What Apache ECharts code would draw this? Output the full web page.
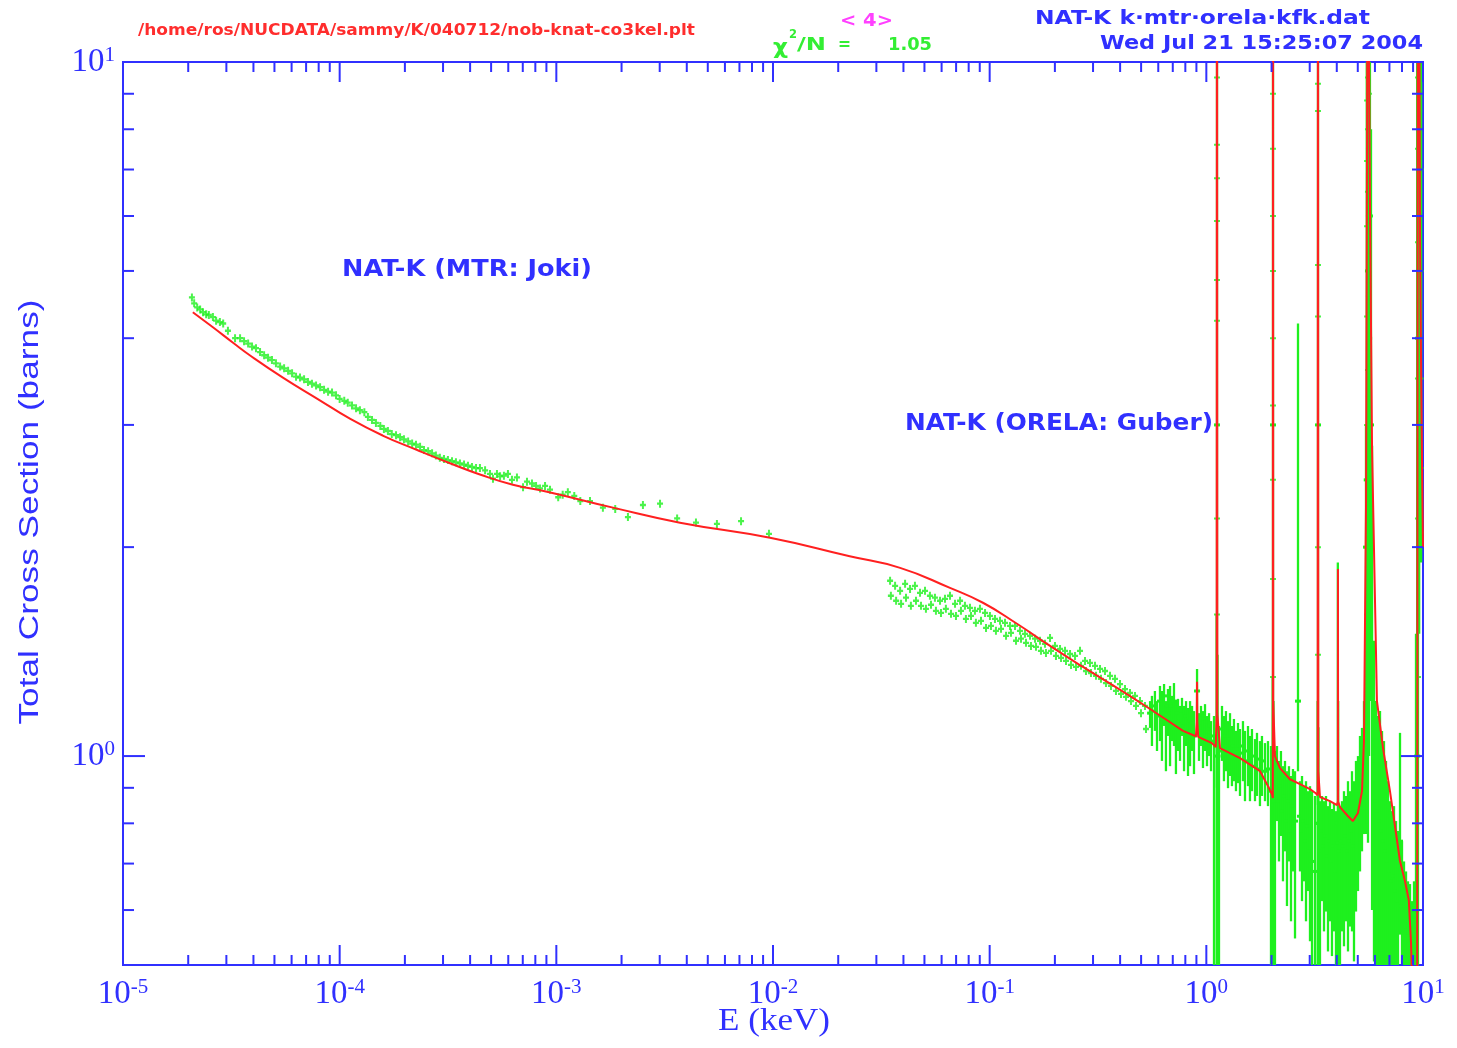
<!DOCTYPE html>
<html><head><meta charset="utf-8">
<script src="https://cdn.jsdelivr.net/npm/echarts@6/dist/echarts.min.js"></script>
<style>html,body{margin:0;padding:0;background:#fff;}#c{width:1457px;height:1048px;}</style>
</head><body><div id="c"></div>
<script>
// ---------------- DATA ----------------
const xDecades = [1e-5, 1e-4, 1e-3, 1e-2, 1e-1, 1, 10];
const minorMultipliers = [2, 3, 4, 5, 6, 7, 8, 9];
const yMajorTicks = [1, 10];
const yMinorTicks = [0.6, 0.7, 0.8, 0.9, 2, 3, 4, 5, 6, 7, 8, 9];

// MTR (Joki) measured points [E keV, sigma barns]
const mtrData = [
[2.08e-5,4.58],[2.13e-5,4.49],[2.20e-5,4.43],[2.27e-5,4.40],[2.34e-5,4.36],[2.42e-5,4.33],[2.49e-5,4.32],
[2.60e-5,4.29],[2.69e-5,4.24],[2.80e-5,4.22],[2.90e-5,4.20],[3.05e-5,4.10],[3.29e-5,4.00],[3.47e-5,4.00],
[3.62e-5,3.96],[3.78e-5,3.93],[3.94e-5,3.89],[4.11e-5,3.87],[4.29e-5,3.82],[4.48e-5,3.78],[4.67e-5,3.75],
[4.87e-5,3.72],[5.08e-5,3.68],[5.31e-5,3.64],[5.54e-5,3.62],[5.78e-5,3.59],[6.03e-5,3.56],[6.29e-5,3.52],
[6.56e-5,3.51],[6.85e-5,3.49],[7.14e-5,3.46],[7.45e-5,3.44],[7.78e-5,3.42],[8.12e-5,3.40],[8.47e-5,3.37],
[8.84e-5,3.35],[9.22e-5,3.34],[9.62e-5,3.31],[1.00e-4,3.27],[1.05e-4,3.25],[1.09e-4,3.23],[1.14e-4,3.20],
[1.19e-4,3.17],[1.24e-4,3.15],[1.30e-4,3.13],[1.35e-4,3.08],[1.41e-4,3.05],[1.47e-4,3.02],[1.54e-4,2.99],
[1.60e-4,2.96],[1.67e-4,2.94],[1.74e-4,2.91],[1.82e-4,2.90],[1.90e-4,2.88],[1.98e-4,2.86],[2.07e-4,2.84],
[2.16e-4,2.82],[2.25e-4,2.81],[2.35e-4,2.79],[2.45e-4,2.76],[2.56e-4,2.75],[2.67e-4,2.73],[2.78e-4,2.71],
[2.90e-4,2.69],[3.03e-4,2.68],[3.16e-4,2.67],[3.30e-4,2.66],[3.44e-4,2.65],[3.59e-4,2.64],[3.75e-4,2.63],
[3.91e-4,2.62],[4.08e-4,2.61],[4.26e-4,2.60],[4.44e-4,2.60],[4.69e-4,2.58],[4.94e-4,2.55],[5.10e-4,2.51],
[5.32e-4,2.55],[5.50e-4,2.53],[5.73e-4,2.535],[5.98e-4,2.55],[6.24e-4,2.50],[6.58e-4,2.52],[7.02e-4,2.44],
[7.32e-4,2.485],[7.72e-4,2.47],[8.06e-4,2.45],[8.41e-4,2.43],[8.87e-4,2.45],[9.35e-4,2.42],[1.02e-3,2.36],
[1.07e-3,2.38],[1.13e-3,2.40],[1.21e-3,2.37],[1.29e-3,2.33],[1.43e-3,2.33],[1.64e-3,2.28],[1.87e-3,2.27],
[2.14e-3,2.21],[2.51e-3,2.30],[3.01e-3,2.31],[3.61e-3,2.20],[4.41e-3,2.17],[5.51e-3,2.16],[7.12e-3,2.18],
[9.58e-3,2.09]
];

// ORELA (Guber) smooth part [E keV, sigma barns]
const orelaSmooth = [
[0.0347,1.789],[0.0350,1.702],[0.0366,1.759],[0.0370,1.674],[0.0386,1.730],[0.0390,1.657],
[0.0407,1.771],[0.0411,1.691],[0.0429,1.741],[0.0433,1.646],[0.0452,1.759],[0.0457,1.674],
[0.0477,1.719],[0.0482,1.646],[0.0503,1.730],[0.0508,1.630],[0.0530,1.702],[0.0536,1.652],
[0.0559,1.691],[0.0565,1.619],[0.0590,1.674],[0.0596,1.608],[0.0622,1.685],[0.0628,1.630],
[0.0656,1.702],[0.0663,1.603],[0.0692,1.657],[0.0699,1.592],[0.0730,1.674],[0.0737,1.619],
[0.0769,1.646],[0.0777,1.576],[0.0811,1.635],[0.0820,1.592],[0.0855,1.619],[0.0864,1.556],
[0.0902,1.630],[0.0912,1.566],[0.0952,1.608],[0.0962,1.530],[0.1003,1.592],[0.1014,1.540],
[0.1058,1.576],[0.1069,1.515],[0.1116,1.566],[0.1128,1.525],[0.1177,1.556],[0.1190,1.490],
[0.1241,1.540],[0.1254,1.505],[0.1309,1.540],[0.1323,1.466],[0.1380,1.515],[0.1395,1.476],
[0.1455,1.500],[0.1471,1.456],[0.1535,1.490],[0.1551,1.441],[0.1619,1.476],[0.1636,1.437],
[0.1707,1.466],[0.1725,1.418],[0.1800,1.451],[0.1819,1.408],[0.1899,1.480],[0.1919,1.418],
[0.2002,1.441],[0.2023,1.394],[0.2112,1.427],[0.2135,1.385],[0.2227,1.418],[0.2251,1.371],
[0.2349,1.403],[0.2374,1.353],[0.2477,1.394],[0.2503,1.344],[0.2612,1.418],[0.2640,1.349],
[0.2754,1.371],[0.2783,1.326],[0.2904,1.362],[0.2935,1.317],[0.3063,1.349],[0.3096,1.305],
[0.3230,1.335],[0.3264,1.292],[0.3406,1.326],[0.3442,1.274],[0.3592,1.305],[0.3630,1.262],
[0.3788,1.292],[0.3828,1.241],[0.3995,1.270],[0.4038,1.229],[0.4213,1.249],[0.4258,1.217],
[0.4443,1.233],[0.4490,1.200],[0.4685,1.221],[0.4735,1.181],[0.4941,1.200],[0.4994,1.153],
[0.5210,1.181],[0.5266,1.094]
];

// ORELA noisy part with error bars [E keV, sigma, lower, upper]
const orelaNoisy = [
[0.550,1.153,1.098,1.200],[0.561,1.161,1.034,1.221],[0.579,1.181,1.087,1.241],[0.592,1.142,1.017,1.200],
[0.611,1.200,1.051,1.262],[0.624,1.131,0.984,1.241],[0.638,1.221,1.105,1.270],[0.651,1.123,0.951,1.200],
[0.665,1.181,1.069,1.249],[0.680,1.153,0.967,1.262],[0.694,1.181,1.051,1.221],[0.709,1.200,1.034,1.274],
[0.724,1.116,0.942,1.200],[0.740,1.153,1.017,1.209],[0.756,1.123,0.984,1.181],[0.772,1.161,1.069,1.213],
[0.789,1.105,0.951,1.181],[0.806,1.142,1.034,1.200],[0.823,1.087,0.936,1.173],[0.841,1.123,0.967,1.200],
[0.859,1.116,1.017,1.181],[0.877,1.069,0.942,1.161],[0.906,1.241,1.123,1.335],[0.925,1.087,0.984,1.153],
[0.945,1.116,1.034,1.181],[0.965,1.069,0.961,1.161],[0.986,1.131,1.017,1.188],[1.007,1.058,0.967,1.142],
[1.029,1.094,1.000,1.153],[1.051,1.051,0.951,1.123],[1.085,1.069,0.45,1.142],[1.116,1.05,0.45,1.6],
[1.120,3.0,0.9,12],[1.126,1.0,0.45,1.4],[1.144,1.017,0.45,1.105],[1.181,1.094,0.984,1.181],
[1.206,1.034,0.920,1.142],[1.232,1.069,0.951,1.161],[1.259,1.024,0.899,1.123],[1.286,1.058,0.936,1.153],
[1.313,1.010,0.905,1.105],[1.341,1.034,0.920,1.131],[1.370,1.000,0.890,1.087],[1.400,1.024,0.914,1.116],
[1.430,1.010,0.876,1.094],[1.476,1.034,0.920,1.123],[1.508,0.984,0.861,1.087],[1.557,1.017,0.905,1.105],
[1.590,0.977,0.861,1.069],[1.624,1.000,0.890,1.094],[1.677,0.967,0.861,1.058],[1.713,0.990,0.876,1.080],
[1.768,0.958,0.847,1.051],[1.806,0.984,0.876,1.069],[1.865,0.951,0.861,1.044],[1.925,0.958,0.847,1.051],
[1.988,0.890,0.45,1.034],[2.025,0.90,0.45,1.3],[2.031,3.0,0.9,12],[2.040,0.85,0.45,1.2],
[2.074,0.861,0.45,1.017],[2.119,0.936,0.806,1.034],[2.164,0.861,0.705,0.984],[2.210,0.905,0.767,1.017],
[2.258,0.833,0.660,0.967],[2.307,0.876,0.729,0.984],[2.356,0.806,0.608,0.951],[2.407,0.861,0.705,0.967],
[2.459,0.780,0.578,0.936],[2.511,0.847,0.682,0.958],[2.566,0.806,0.546,0.951],[2.649,1.20,0.951,4.20],
[2.706,0.819,0.682,0.920],[2.764,0.780,0.618,0.936],[2.823,0.806,0.660,0.905],[2.884,0.754,0.578,0.920],
[2.946,0.793,0.639,0.890],[3.009,0.729,0.541,0.905],[3.074,0.705,0.45,0.890],[3.173,0.682,0.45,0.876],
[3.265,0.80,0.45,1.2],[3.276,3.0,0.85,12],[3.290,0.80,0.45,1.1],[3.346,0.729,0.45,0.861],
[3.418,0.780,0.618,0.876],[3.492,0.742,0.559,0.861],[3.567,0.767,0.597,0.876],[3.643,0.717,0.523,0.847],
[3.721,0.754,0.578,0.861],[3.801,0.705,0.515,0.839],[3.883,0.742,0.559,0.853],[3.966,0.682,0.45,0.833],
[4.045,0.80,0.45,1.9],[4.060,0.75,0.45,1.2],[4.139,0.729,0.45,0.847],[4.228,0.754,0.559,0.861],
[4.318,0.742,0.532,0.890],[4.411,0.767,0.578,0.876],[4.506,0.729,0.523,0.920],[4.603,0.754,0.568,0.890],
[4.702,0.780,0.559,0.951],[4.803,0.742,0.506,0.920],[4.906,0.806,0.597,0.984],[5.011,0.833,0.639,1.000],
[5.119,0.890,0.682,1.069],[5.229,0.920,0.729,1.098],[5.342,0.984,0.772,1.200],[5.456,2.0,0.772,3.0],
[5.500,2.5,0.80,12],[5.573,5.0,0.75,12],[5.640,4.0,1.0,12],[5.690,6.0,3.0,12],[5.754,3.0,1.2,8],
[5.820,1.3,0.60,2.8],[5.940,0.984,0.506,1.466],[6.068,0.861,0.45,1.200],[6.198,0.833,0.45,1.142],
[6.332,0.806,0.45,1.161],[6.468,0.780,0.45,1.087],[6.606,0.754,0.45,1.051],[6.749,0.729,0.45,0.984],
[6.894,0.705,0.45,0.920],[7.042,0.682,0.45,0.861],[7.193,0.660,0.45,0.833],[7.348,0.671,0.45,0.847],
[7.506,0.639,0.45,0.806],[7.667,0.618,0.45,0.780],[7.832,0.754,0.553,1.080],[8.000,0.608,0.45,0.754],
[8.172,0.578,0.45,0.705],[8.348,0.568,0.45,0.682],[8.527,0.550,0.45,0.660],[8.710,0.541,0.45,0.654],
[8.897,0.523,0.45,0.618],[9.088,0.541,0.45,0.660],[9.283,0.60,0.45,1.5],[9.400,1.0,0.45,12],
[9.482,4.0,0.45,12],[9.600,5.0,1.5,12],[9.800,3.0,1.9,12]
];

// ORELA points climbing the resonances [E keV, sigma]
const orelaResonancePoints = [
[1.120,9.5],[1.120,7.6],[1.120,6.8],[1.120,5.9],[1.120,4.85],[1.120,4.24],[1.120,3.0],[1.120,2.2],[1.120,1.6],
[2.031,9.0],[2.031,7.5],[2.031,6.0],[2.031,5.0],[2.031,4.0],[2.031,3.2],[2.031,2.5],[2.031,1.8],[2.031,1.3],
[3.276,9.3],[3.276,8.5],[3.276,5.1],[3.276,4.3],[3.276,3.0],[3.276,2.0],[3.276,1.4],
[5.573,9.5],[5.573,8.0],[5.573,6.5],[5.573,5.0],[5.573,3.6],[5.573,2.5],
[5.52,8.8],[5.52,7.2],[5.52,5.8],[5.52,4.3],[5.52,3.0],[5.52,2.0],[5.52,1.6],
[5.63,9.0],[5.63,7.5],[5.63,6.0],[5.63,4.6],[5.63,3.3],
[9.482,9.5],[9.482,7.5],[9.482,5.5],[9.482,3.5],[9.482,2.2],[9.482,1.3],
[9.60,8.5],[9.60,6.5],[9.60,4.5],[9.60,2.8],
[9.75,7.0],[9.75,5.0],[9.75,3.5],[9.75,2.6],[9.75,2.1]
];

// SAMMY theoretical curve, smooth low-energy part [E keV, sigma barns]
const theoryCurveSmooth = [
[2.10e-5,4.36],[2.60e-5,4.147],[3.22e-5,3.94],[3.86e-5,3.777],[5.47e-5,3.51],[7.86e-5,3.274],[1.12e-4,3.06],
[1.58e-4,2.896],[2.28e-4,2.76],[3.23e-4,2.642],[4.44e-4,2.545],[6.30e-4,2.46],[9.06e-4,2.404],
[1.826e-3,2.28],[3.721e-3,2.169],[9.685e-3,2.063],[0.0226,1.94],[0.0386,1.867],[0.0656,1.747],[0.0931,1.663],
[0.1337,1.551],[0.190,1.441],[0.2696,1.344],[0.387,1.254],[0.550,1.169],[0.780,1.087]
];
// SAMMY theoretical curve, resolved-resonance part [E keV, sigma barns]
const theoryCurveResonances = [
[0.780,1.087],[0.895,1.068],[0.903,1.12],[0.906,1.28],[0.909,1.12],[0.917,1.066],
[1.062,1.044],[1.105,1.03],[1.116,1.15],[1.120,40],[1.124,1.15],[1.156,1.027],[1.43,0.993],[1.77,0.951],
[1.905,0.911],[2.010,0.881],[2.027,0.87],[2.031,40],[2.036,1.2],[2.074,1.00],[2.187,0.961],[2.433,0.926],
[2.706,0.911],[3.009,0.896],[3.20,0.884],[3.265,0.878],[3.276,40],[3.287,0.95],[3.346,0.873],[3.72,0.861],
[4.01,0.850],[4.045,0.86],[4.051,1.86],[4.058,0.86],[4.14,0.844],[4.51,0.819],[4.75,0.806],[5.01,0.828],
[5.23,0.890],[5.34,1.051],[5.46,2.33],[5.52,8.0],[5.573,50],[5.62,12],[5.69,6.32],[5.82,2.76],[6.13,1.20],
[6.54,1.027],[7.04,0.890],[7.83,0.706],[8.26,0.66],[8.60,0.62],[8.80,0.54],[8.95,0.45],[9.40,0.45],
[9.482,50],[9.69,5.5],[9.85,3.0],[10.0,2.0]
];

// ---------------- RENDERING ----------------
const BLUE = '#3030ff', GREEN = '#1ef01e', RED = '#ff2020';
const X_MIN = 1e-5, X_MAX = 10, Y_MIN = 0.5, Y_MAX = 10;

// tick specs: [x, y, side(0 bottom,1 top,2 left,3 right), length]
const tickData = [];
xDecades.forEach(d => {
  tickData.push([d, Y_MIN, 0, 20], [d, Y_MAX, 1, 20]);
  if (d < X_MAX) minorMultipliers.forEach(m => {
    tickData.push([m * d, Y_MIN, 0, 10], [m * d, Y_MAX, 1, 10]);
  });
});
yMajorTicks.forEach(v => tickData.push([X_MIN, v, 2, 22], [X_MAX, v, 3, 22]));
yMinorTicks.forEach(v => tickData.push([X_MIN, v, 2, 11], [X_MAX, v, 3, 11]));

const mctx = document.createElement('canvas').getContext('2d');
function fitText(text, x0, x1, yc, size, family, weight, color) {
  mctx.font = weight + ' ' + size + 'px "' + family + '"';
  const w = mctx.measureText(text).width;
  return {type: 'text', x: x0, y: yc, scaleX: (x1 - x0) / w, z: 100,
    style: {text: text, fill: color, fontSize: size, fontFamily: family, fontWeight: weight,
      align: 'left', verticalAlign: 'middle'}};
}
function fitRotated(text, xc, yc, len, size, family, weight, color) {
  mctx.font = weight + ' ' + size + 'px "' + family + '"';
  const w = mctx.measureText(text).width;
  return {type: 'text', x: xc, y: yc, rotation: Math.PI / 2, scaleX: len / w, z: 100,
    style: {text: text, fill: color, fontSize: size, fontFamily: family, fontWeight: weight,
      align: 'center', verticalAlign: 'middle'}};
}

const graphics = [
  fitText('/home/ros/NUCDATA/sammy/K/040712/nob-knat-co3kel.plt', 138, 695, 31, 15, 'DejaVu Sans', 'bold', '#ff2d2d'),
  fitText('< 4>', 840, 893, 22, 17, 'DejaVu Sans', 'bold', '#ff40ff'),
  fitText('χ', 773, 788, 48, 22, 'DejaVu Sans', 'bold', '#33ee33'),
  fitText('2', 789, 797, 35, 13, 'DejaVu Sans', 'bold', '#33ee33'),
  fitText('/N', 797, 826, 45, 18, 'DejaVu Sans', 'bold', '#33ee33'),
  fitText('=', 838, 851, 45, 18, 'DejaVu Sans', 'bold', '#33ee33'),
  fitText('1.05', 888, 932, 45, 18, 'DejaVu Sans', 'bold', '#33ee33'),
  fitText('NAT-K k·mtr·orela·kfk.dat', 1035, 1370, 19, 20, 'DejaVu Sans', 'bold', BLUE),
  fitText('Wed Jul 21 15:25:07 2004', 1100, 1423, 44, 20, 'DejaVu Sans', 'bold', BLUE),
  fitText('NAT-K (MTR: Joki)', 342, 592, 270, 23, 'DejaVu Sans', 'bold', BLUE),
  fitText('NAT-K (ORELA: Guber)', 905, 1213, 424, 23, 'DejaVu Sans', 'bold', BLUE),
  fitText('E (keV)', 718, 830, 1022, 32, 'Liberation Serif', 'normal', BLUE),
  fitRotated('Total Cross Section (barns)', 31, 512, 425, 27, 'Liberation Sans', 'normal', BLUE)
];

function powLabel(v) {
  const l = Math.log10(v), e = Math.round(l);
  return Math.abs(l - e) < 1e-6 ? '{b|10}{s|' + e + '}' : '';
}
const labelRich = {
  b: {fontSize: 33, fontFamily: 'Liberation Serif', color: BLUE, lineHeight: 34},
  s: {fontSize: 21, fontFamily: 'Liberation Serif', color: BLUE, lineHeight: 20, verticalAlign: 'top'}
};

const plusSymbol = 'path://M2,0H4V2.5H6V4.5H4V7H2V4.5H0V2.5H2Z';
const redLine = {type: 'line', showSymbol: false, symbol: 'none', z: 4, clip: true,
  lineStyle: {color: RED, width: 2}};

const chart = echarts.init(document.getElementById('c'), null, {renderer: 'canvas'});
chart.setOption({
  animation: false,
  backgroundColor: '#ffffff',
  grid: {left: 123, top: 62, width: 1300, height: 903, show: true, borderColor: BLUE, borderWidth: 2,
    backgroundColor: 'transparent'},
  xAxis: {type: 'log', logBase: 10, min: X_MIN, max: X_MAX, splitNumber: 6,
    axisLine: {show: false}, axisTick: {show: false}, splitLine: {show: false},
    axisLabel: {formatter: powLabel, rich: labelRich, margin: 12, showMinLabel: true, showMaxLabel: true,
      hideOverlap: false}},
  yAxis: {type: 'log', logBase: 10, min: Y_MIN, max: Y_MAX, splitNumber: 1,
    axisLine: {show: false}, axisTick: {show: false}, splitLine: {show: false},
    axisLabel: {formatter: powLabel, rich: labelRich, margin: 8, showMinLabel: true, showMaxLabel: true}},
  graphic: graphics,
  series: [
    {type: 'custom', name: 'orelaBars', data: orelaNoisy, clip: true, z: 2,
      encode: {x: 0, y: 1},
      renderItem: function (params, api) {
        const x = api.value(0);
        const p0 = api.coord([x, api.value(2)]), p1 = api.coord([x, api.value(3)]), pc = api.coord([x, api.value(1)]);
        return {type: 'group', children: [
          {type: 'line', shape: {x1: p0[0], y1: p0[1], x2: p1[0], y2: p1[1]}, style: {stroke: GREEN, lineWidth: 2.3}},
          {type: 'rect', shape: {x: pc[0] - 3, y: pc[1] - 1.5, width: 6, height: 3}, style: {fill: GREEN}}
        ]};
      }},
    {type: 'scatter', name: 'MTR', data: mtrData, symbol: plusSymbol, symbolSize: [6, 8], z: 3,
      itemStyle: {color: GREEN}},
    {type: 'scatter', name: 'ORELA', data: orelaSmooth, symbol: plusSymbol, symbolSize: [6, 8], z: 3,
      itemStyle: {color: GREEN}},
    {type: 'scatter', name: 'ORELA res', data: orelaResonancePoints, symbol: plusSymbol, symbolSize: [6, 7], z: 3,
      itemStyle: {color: GREEN}, clip: true},
    Object.assign({name: 'theory', data: theoryCurveSmooth, smooth: 0.5}, redLine),
    Object.assign({name: 'theory res', data: theoryCurveResonances, smooth: false}, redLine),
    {type: 'custom', name: 'ticks', data: tickData, clip: false, z: 5, silent: true,
      encode: {x: 0, y: 1},
      renderItem: function (params, api) {
        const p = api.coord([api.value(0), api.value(1)]);
        const side = api.value(2), len = api.value(3);
        let x2 = p[0], y2 = p[1];
        if (side === 0) y2 -= len; else if (side === 1) y2 += len;
        else if (side === 2) x2 += len; else x2 -= len;
        return {type: 'line', shape: {x1: p[0], y1: p[1], x2: x2, y2: y2},
          style: {stroke: BLUE, lineWidth: 2}};
      }}
  ]
});
</script></body></html>
